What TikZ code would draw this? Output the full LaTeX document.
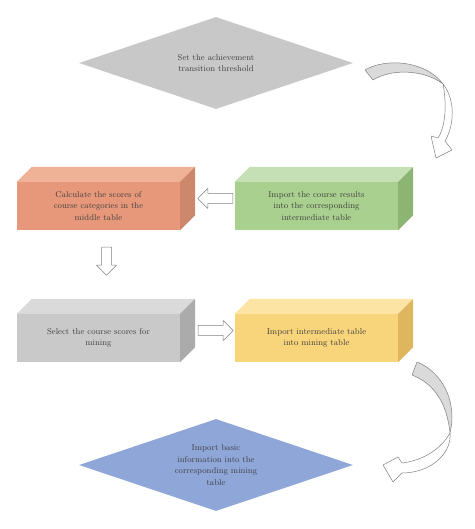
\documentclass[tikz,border=0pt]{standalone}
\usepackage{tikz}
\usetikzlibrary{shapes.geometric,calc}
\definecolor{txtgray}{HTML}{404040}
\definecolor{linegray}{HTML}{7F7F7F}
\definecolor{diagray}{HTML}{C8C8C8}
\definecolor{diablue}{HTML}{8FA6D8}
\definecolor{orfront}{HTML}{E8987A}
\definecolor{ortop}{HTML}{F0B296}
\definecolor{orside}{HTML}{CD876C}
\definecolor{grfront}{HTML}{A9D08E}
\definecolor{grtop}{HTML}{C5E0B4}
\definecolor{grside}{HTML}{8CB473}
\definecolor{gyfront}{HTML}{C9C9C9}
\definecolor{gytop}{HTML}{DADADA}
\definecolor{gyside}{HTML}{ABABAB}
\definecolor{ylfront}{HTML}{F8D47A}
\definecolor{yltop}{HTML}{FCE4A4}
\definecolor{ylside}{HTML}{DDB65E}
\newcommand{\boxfaces}[3]{%
  \fill[#2] (#1.north west) -- ++(15,15) -- ([shift={(15,15)}]#1.north east) -- (#1.north east) -- cycle;
  \fill[#3] (#1.north east) -- ++(15,15) -- ([shift={(15,15)}]#1.south east) -- (#1.south east) -- cycle;}

\begin{document}
\begin{tikzpicture}[x=1pt, y=1pt, font=\fontsize{8.5}{11.5}\selectfont, text=txtgray,
  cube/.style={rectangle, inner sep=0pt, minimum width=163pt, minimum height=48pt, align=center},
  dia/.style={diamond, aspect=3, inner sep=0pt, minimum width=274pt, minimum height=92pt, align=center},
  arrowline/.style={draw=linegray, fill=white, line width=0.5pt, line join=round},
  curvearrow/.style={draw=linegray, line width=0.5pt, line join=round},
  blockarrow/.pic={\draw[arrowline] (0,-5) -- ({#1-10},-5) -- ({#1-10},-10) -- (#1,0) -- ({#1-10},10) -- ({#1-10},5) -- (0,5) -- cycle;}]
\useasboundingbox (0,0) rectangle (474,529);

% decisions
\node[dia, fill=diagray] (threshold) at (216,466) {Set the achievement\\transition threshold};
\node[dia, fill=diablue] (basic) at (216,64) {Import basic\\information into the\\corresponding mining\\table};

% tables
\node[cube, fill=grfront] (import) at (316.5,323) {Import the course results\\into the corresponding\\intermediate table};
\boxfaces{import}{grtop}{grside}
\node[cube, fill=orfront] (calc) at (98.5,323) {Calculate the scores of\\course categories in the\\middle table};
\boxfaces{calc}{ortop}{orside}
\node[cube, fill=gyfront] (select) at (98.5,191) {Select the course scores for\\mining};
\boxfaces{select}{gytop}{gyside}
\node[cube, fill=ylfront] (mining) at (316.5,191) {Import intermediate table\\into mining table};
\boxfaces{mining}{yltop}{ylside}

% block arrows
\pic[rotate=180] at ($(import.west)+(-2,7.5)$) {blockarrow=35};
\pic[rotate=-90] at ($(calc.south)+(8,-17)$) {blockarrow=28};
\pic at ($(select.east)+(18,7.5)$) {blockarrow=35};

% curved arrow: threshold -> import
\draw[curvearrow, fill=gytop] (365,459) .. controls (385,471) and (425,469) .. (443,445)
  .. controls (425,459) and (392,461) .. (373,449) -- cycle;
\draw[curvearrow, fill=white] (443,445) .. controls (455,430) and (455,405) .. (445,388)
  -- (452,379) -- (436,371) -- (431,393) -- (438,391)
  .. controls (447,405) and (446,430) .. (443,445) -- cycle;

% curved arrow: mining -> basic
\draw[curvearrow, fill=gytop] (417,167) .. controls (440,158) and (458,130) .. (450,96)
  .. controls (447,125) and (435,145) .. (412,154) -- cycle;
\draw[curvearrow, fill=white] (450,96) .. controls (440,78) and (420,68) .. (402,66)
  -- (398,72) -- (383,64) -- (393,47) -- (402,56)
  .. controls (430,56) and (452,75) .. (450,96) -- cycle;
\end{tikzpicture}
\end{document}
